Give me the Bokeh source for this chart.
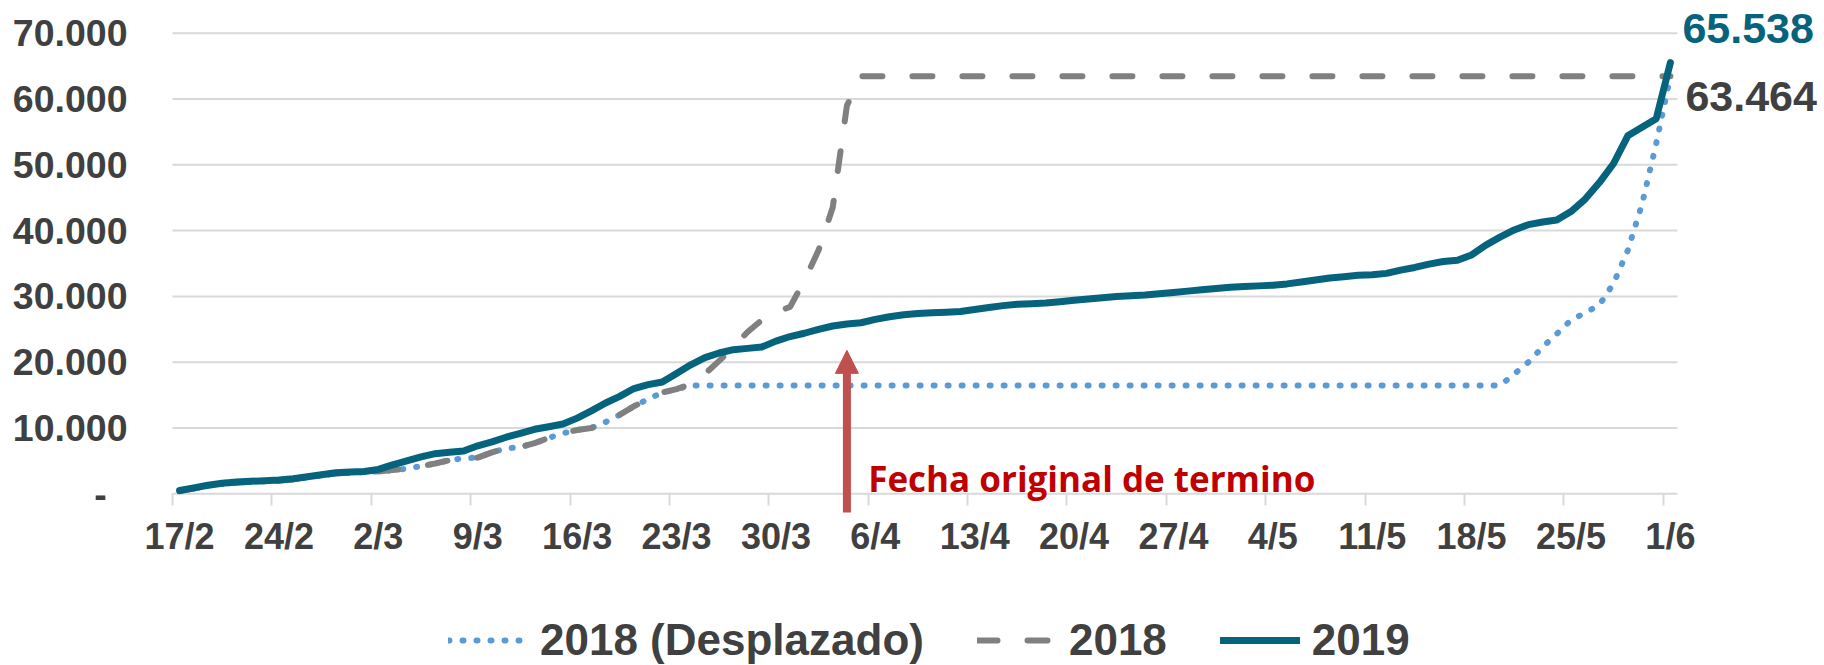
from bokeh.plotting import figure
from bokeh.models import Range1d, FixedTicker, Label, Arrow, NormalHead, Legend, LegendItem
from bokeh.embed import file_html
from bokeh.resources import INLINE

# ---------------- data ----------------
tick_labels = ["17/2", "24/2", "2/3", "9/3", "16/3", "23/3", "30/3", "6/4",
               "13/4", "20/4", "27/4", "4/5", "11/5", "18/5", "25/5", "1/6"]

y_ticks = [0, 10000, 20000, 30000, 40000, 50000, 60000, 70000]
y_tick_labels = ["-", "10.000", "20.000", "30.000", "40.000", "50.000", "60.000", "70.000"]

v2019 = [500, 900, 1300, 1600, 1800, 1900, 2000, 2100, 2300, 2600,
         2900, 3200, 3300, 3400, 3700, 4400, 5000, 5600, 6100, 6300,
         6500, 7300, 7900, 8600, 9200, 9800, 10200, 10600, 11500, 12600,
         13800, 14800, 16000, 16600, 17000, 18300, 19600, 20700, 21400, 21900,
         22100, 22300, 23200, 23900, 24400, 25000, 25500, 25800, 26000, 26500,
         26900, 27200, 27400, 27500, 27600, 27700, 28000, 28300, 28600, 28800,
         28900, 29000, 29200, 29400, 29600, 29800, 30000, 30100, 30200, 30400,
         30600, 30800, 31000, 31200, 31400, 31500, 31600, 31700, 31900, 32200,
         32500, 32800, 33000, 33200, 33300, 33500, 34000, 34400, 34900, 35300,
         35500, 36300, 37800, 39000, 40100, 40900, 41300, 41600, 42900, 44800,
         47300, 50200, 54400, 55700, 57000, 65538]

v2018_desplazado = [400, 800, 1200, 1500, 1700, 1800, 1900, 2000, 2200, 2500,
                    2800, 3100, 3200, 3300, 3400, 3600, 3800, 4200, 4600, 5100,
                    5400, 5500, 6300, 6900, 7100, 7700, 8500, 9200, 9700, 10000,
                    10900, 12000, 13300, 14400, 15400, 15900, 16460, 16460, 16460, 16460,
                    16460, 16460, 16460, 16460, 16460, 16460, 16460, 16460, 16460, 16460,
                    16460, 16460, 16460, 16460, 16460, 16460, 16460, 16460, 16460, 16460,
                    16460, 16460, 16460, 16460, 16460, 16460, 16460, 16460, 16460, 16460,
                    16460, 16460, 16460, 16460, 16460, 16460, 16460, 16460, 16460, 16460,
                    16460, 16460, 16460, 16460, 16460, 16460, 16460, 16460, 16460, 16460,
                    16460, 16460, 16460, 16460, 18200, 20000, 22300, 24300, 26400, 27500,
                    28700, 32000, 37000, 44000, 53200, 63464]

v2018 = [400, 800, 1200, 1500, 1700, 1800, 1900, 2000, 2200, 2500,
         2800, 3100, 3200, 3300, 3400, 3600, 3800, 4200, 4600, 5100,
         5400, 5500, 6300, 6900, 7100, 7700, 8500, 9200, 9700, 10000,
         10900, 12000, 13300, 14400, 15400, 15900, 16700, 18200, 20200, 22300,
         24600, 26400, 27600, 28400, 32400, 37000, 43500, 59000, 63464, 63464,
         63464, 63464, 63464, 63464, 63464, 63464, 63464, 63464, 63464, 63464,
         63464, 63464, 63464, 63464, 63464, 63464, 63464, 63464, 63464, 63464,
         63464, 63464, 63464, 63464, 63464, 63464, 63464, 63464, 63464, 63464,
         63464, 63464, 63464, 63464, 63464, 63464, 63464, 63464, 63464, 63464,
         63464, 63464, 63464, 63464, 63464, 63464, 63464, 63464, 63464, 63464,
         63464, 63464, 63464, 63464, 63464, 63464]

series_names = ["2018 (Desplazado)", "2018", "2019"]
end_label_2019 = "65.538"
end_label_2018 = "63.464"
annotation_text = "Fecha original de termino"
original_end_day = 47          # day index of the original end date (4/4)

days = list(range(len(v2019)))

# ---------------- styles / layout ----------------
C2019 = "#06637D"
C2018 = "#808080"
CDESP = "#5B9BD5"
CTEXT = "#404040"
CGRID = "#D9D9D9"
CARROW = "#C0504D"
CRED = "#C00000"
FONT = "Liberation Sans"

W, H = 1824, 665
AXIS_LEFT = 172                 # screen x where the data period starts
FRAME_LEFT = 136
PX_PER_DAY = 14.198
ZERO_PX = 493.3                 # screen y of value 0
UNITS_PER_PX = 70000 / 460.6    # value units per screen pixel

x_start = -0.5 - (AXIS_LEFT - FRAME_LEFT) / PX_PER_DAY
x_end = -0.5 + (W - AXIS_LEFT) / PX_PER_DAY
y_end = 70000 + (ZERO_PX - 460.6) * UNITS_PER_PX
y_start = -(H - ZERO_PX) * UNITS_PER_PX

p = figure(width=W, height=H, output_backend="svg", toolbar_location=None,
           x_range=Range1d(x_start, x_end), y_range=Range1d(y_start, y_end),
           min_border_left=FRAME_LEFT, min_border_right=0, min_border_top=0,
           min_border_bottom=0)
p.outline_line_color = None
p.background_fill_color = "white"
p.border_fill_color = "white"

first, last = days[0] - 0.5, days[-1] + 0.5

# gridlines (span only the data period, like the original)
p.segment(x0=[first] * len(y_ticks), y0=y_ticks, x1=[last] * len(y_ticks), y1=y_ticks,
          line_color=CGRID, line_width=2)

# x axis drawn at value 0: labels at day centres, tick marks at week boundaries
label_pos = [7 * k for k in range(len(tick_labels))]
boundary_pos = [7 * k - 0.5 for k in range(len(tick_labels))]
p.xaxis.fixed_location = 0
p.xaxis.ticker = FixedTicker(ticks=label_pos, minor_ticks=boundary_pos)
p.xaxis.major_label_overrides = {pos: lab for pos, lab in zip(label_pos, tick_labels)}
p.xaxis.major_tick_line_color = None
p.xaxis.major_tick_out = 0
p.xaxis.major_tick_in = 0
p.xaxis.minor_tick_out = 12
p.xaxis.minor_tick_in = 0
p.xaxis.minor_tick_line_color = CGRID
p.xaxis.minor_tick_line_width = 2
p.xaxis.axis_line_color = None
p.xaxis.major_label_standoff = 10
p.xaxis.major_label_text_font = FONT
p.xaxis.major_label_text_font_style = "bold"
p.xaxis.major_label_text_font_size = "36px"
p.xaxis.major_label_text_color = CTEXT

# y axis
p.yaxis.ticker = FixedTicker(ticks=y_ticks, minor_ticks=[])
ylabs = list(y_tick_labels)
ylabs[0] = ylabs[0] + "\u00a0\u00a0"
p.yaxis.major_label_overrides = {t: l for t, l in zip(y_ticks, ylabs)}
p.yaxis.axis_line_color = None
p.yaxis.major_tick_line_color = None
p.yaxis.minor_tick_line_color = None
p.yaxis.major_tick_out = 0
p.yaxis.major_tick_in = 0
p.yaxis.major_label_standoff = FRAME_LEFT - 127
p.yaxis.major_label_text_font = FONT
p.yaxis.major_label_text_font_style = "bold"
p.yaxis.major_label_text_font_size = "37.5px"
p.yaxis.major_label_text_color = CTEXT

p.xgrid.visible = False
p.ygrid.visible = False

# lines
r_desp = p.line(days, v2018_desplazado, line_color=CDESP, line_width=6,
                line_dash="1 13", line_cap="round")
r_2018 = p.line(days, v2018, line_color=C2018, line_width=6,
                line_dash="20 30", line_cap="round")
r_2019 = p.line(days, v2019, line_color=C2019, line_width=7,
                line_cap="round", line_join="round")

# arrow + annotation
p.add_layout(Arrow(end=NormalHead(size=23, fill_color=CARROW, line_color=CARROW),
                   x_start=original_end_day, y_start=-2840,
                   x_end=original_end_day, y_end=21800,
                   line_color=CARROW, line_width=8))
p.add_layout(Label(x=original_end_day + 1.5, y=2300, text=annotation_text,
                   text_font="Open Sans", text_font_style="bold",
                   text_font_size="35px", text_color=CRED,
                   text_align="left", text_baseline="alphabetic"))

# end labels
p.add_layout(Label(x=days[-1], y=v2019[-1], text=end_label_2019,
                   x_offset=12, y_offset=34, text_font=FONT, text_font_style="bold",
                   text_font_size="43px", text_color=C2019,
                   text_align="left", text_baseline="middle"))
p.add_layout(Label(x=days[-1], y=v2018[-1], text=end_label_2018,
                   x_offset=15, y_offset=-20, text_font=FONT, text_font_style="bold",
                   text_font_size="43px", text_color=CTEXT,
                   text_align="left", text_baseline="middle"))

legend = Legend(items=[LegendItem(label=series_names[0], renderers=[r_desp]),
                       LegendItem(label=series_names[1], renderers=[r_2018]),
                       LegendItem(label=series_names[2], renderers=[r_2019])],
                orientation="horizontal", location=(448 - FRAME_LEFT, 0),
                glyph_width=80, glyph_height=20, label_standoff=12, spacing=53,
                padding=0, margin=0, border_line_color=None,
                background_fill_alpha=0,
                label_text_font=FONT, label_text_font_style="bold",
                label_text_font_size="44px", label_text_color=CTEXT)
p.add_layout(legend)

open("out.html", "w").write(file_html(p, INLINE))
